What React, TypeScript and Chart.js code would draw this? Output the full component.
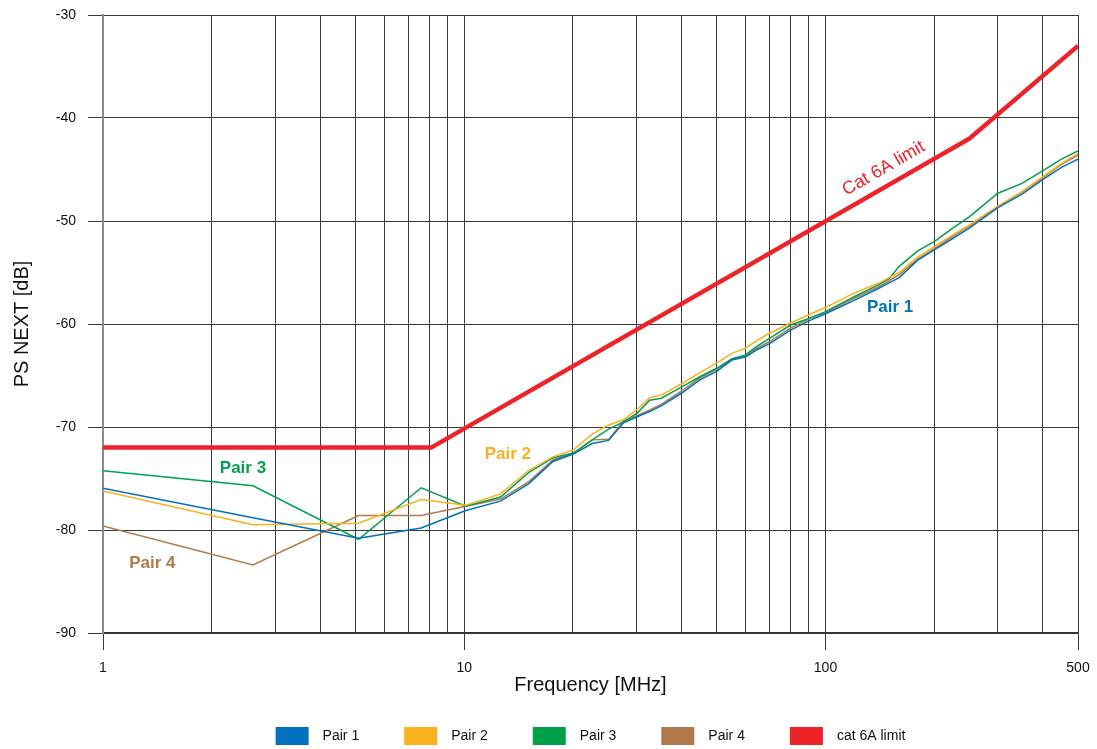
import React, { useEffect, useRef } from "react";
import { Chart, registerables } from "chart.js";

Chart.register(...registerables);

// Frequencies (MHz) of the measured sweep points
const freqs = [1, 2.6, 5.1, 7.6, 10.1, 12.6, 15.1, 17.6, 20.1, 22.6, 25.1, 27.6, 30.1, 32.6, 35.1, 40, 45, 50, 55, 60, 65, 70, 80, 90, 100, 120, 140, 150, 160, 180, 200, 225, 250, 300, 350, 400, 450, 500];

const pair1 = [-75.95, -78.8, -80.8, -79.8, -78.1, -77.2, -75.5, -73.35, -72.6, -71.6, -71.3, -69.6, -69.0, -68.5, -67.95, -66.7, -65.4, -64.6, -63.5, -63.2, -62.45, -61.9, -60.6, -59.7, -59.0, -57.7, -56.55, -56.0, -55.5, -53.8, -52.8, -51.7, -50.7, -48.7, -47.4, -45.95, -44.8, -44.0];
const pair2 = [-76.2, -79.5, -79.35, -77.05, -77.6, -76.5, -74.2, -72.9, -72.2, -70.7, -69.8, -69.3, -68.3, -67.15, -66.9, -65.8, -64.7, -63.8, -62.85, -62.35, -61.55, -60.9, -59.9, -59.1, -58.4, -57.0, -56.05, -55.5, -55.0, -53.5, -52.5, -51.35, -50.4, -48.55, -47.15, -45.7, -44.4, -43.45];
const pair3 = [-74.24, -75.7, -80.9, -75.9, -77.7, -76.8, -74.4, -73.0, -72.5, -71.25, -70.2, -69.5, -68.65, -67.4, -67.2, -66.1, -65.1, -64.3, -63.4, -63.0, -62.1, -61.4, -60.1, -59.45, -58.8, -57.35, -56.2, -55.6, -54.4, -52.9, -52.0, -50.7, -49.6, -47.3, -46.35, -45.1, -44.0, -43.2];
const pair4 = [-79.6, -83.4, -78.6, -78.6, -77.7, -77.0, -75.3, -73.2, -72.55, -71.25, -71.2, -69.4, -68.9, -68.35, -67.8, -66.5, -65.2, -64.4, -63.4, -63.1, -62.3, -61.7, -60.4, -59.5, -58.9, -57.5, -56.4, -55.8, -55.2, -53.7, -52.7, -51.5, -50.5, -48.6, -47.2, -45.8, -44.5, -43.6];

const limitFreqs = [1, 8.1, 250, 500];
const limitValues = [-72, -72, -42, -33];

const gridFreqs = [1, 2, 3, 4, 5, 6, 7, 8, 9, 10, 20, 30, 40, 50, 60, 70, 80, 90, 100, 200, 300, 400, 500];
const xTickLabels = [1, 10, 100, 500];
const yTicks = [-90, -80, -70, -60, -50, -40, -30];

const seriesNames = ["Pair 1", "Pair 2", "Pair 3", "Pair 4", "cat 6A limit"];
const seriesColors = ["#0071bc", "#fbb01e", "#00a14b", "#b07a4c", "#ee2229"];

// In-plot labels (data coordinates)
const labelTexts = ["Pair 1", "Pair 2", "Pair 3", "Pair 4"];
const labelFreqs = [151, 13.2, 2.44, 1.37];
const labelValues = [-58.35, -72.7, -73.98, -83.2];
const limitLabelText = "Cat 6A limit";
const limitLabelFreq = 145;
const limitLabelValue = -44.9;

const FONT = "'Liberation Sans', Arial, Helvetica, sans-serif";

const toPoints = (xs: number[], ys: number[]) => xs.map((x, i) => ({ x, y: ys[i] }));

export default function App() {
  const ref = useRef<HTMLCanvasElement | null>(null);

  useEffect(() => {
    if (!ref.current) return;
    const series = [pair1, pair2, pair3, pair4];

    const overlay = {
      id: "overlay",
      afterDatasetsDraw(chart: any) {
        const ctx = chart.ctx;
        const xs = chart.scales.x;
        const ys = chart.scales.y;
        const ca = chart.chartArea;
        ctx.save();
        // pair labels
        ctx.font = `bold 17px ${FONT}`;
        ctx.textAlign = "center";
        ctx.textBaseline = "middle";
        labelTexts.forEach((t, i) => {
          ctx.fillStyle = seriesColors[i];
          ctx.fillText(t, xs.getPixelForValue(labelFreqs[i]), ys.getPixelForValue(labelValues[i]));
        });
        // limit label, rotated along the line
        const x1 = xs.getPixelForValue(limitFreqs[1]);
        const y1 = ys.getPixelForValue(limitValues[1]);
        const x2 = xs.getPixelForValue(limitFreqs[2]);
        const y2 = ys.getPixelForValue(limitValues[2]);
        const ang = Math.atan2(y2 - y1, x2 - x1);
        ctx.translate(xs.getPixelForValue(limitLabelFreq), ys.getPixelForValue(limitLabelValue));
        ctx.rotate(ang);
        ctx.font = `18px ${FONT}`;
        ctx.fillStyle = seriesColors[4];
        ctx.fillText(limitLabelText, 0, 0);
        ctx.restore();

        // axis titles
        ctx.save();
        ctx.fillStyle = "#111";
        ctx.font = `20px ${FONT}`;
        ctx.textAlign = "center";
        ctx.textBaseline = "middle";
        ctx.fillText("Frequency [MHz]", (ca.left + ca.right) / 2, 685);
        ctx.translate(22, (ca.top + ca.bottom) / 2);
        ctx.rotate(-Math.PI / 2);
        ctx.fillText("PS NEXT [dB]", 0, 0);
        ctx.restore();

        // legend
        ctx.save();
        ctx.font = `14px ${FONT}`;
        const boxW = 33, boxH = 18, gapText = 14, gapItem = 45;
        const widths = seriesNames.map((n) => boxW + gapText + ctx.measureText(n).width);
        const total = widths.reduce((a, b) => a + b, 0) + gapItem * (widths.length - 1);
        let x = (ca.left + ca.right) / 2 - total / 2;
        const cy = 736;
        ctx.textBaseline = "middle";
        ctx.textAlign = "left";
        seriesNames.forEach((n, i) => {
          ctx.fillStyle = seriesColors[i];
          ctx.fillRect(x, cy - boxH / 2, boxW, boxH);
          ctx.fillStyle = "#111";
          ctx.fillText(n, x + boxW + gapText, cy);
          x += widths[i] + gapItem;
        });
        ctx.restore();
      },
    };

    const datasets: any[] = series.map((s, i) => ({
      label: seriesNames[i],
      data: toPoints(freqs, s),
      borderColor: seriesColors[i],
      backgroundColor: seriesColors[i],
      borderWidth: 1.5,
      pointRadius: 0,
      tension: 0,
    }));
    datasets.push({
      label: seriesNames[4],
      data: toPoints(limitFreqs, limitValues),
      borderColor: seriesColors[4],
      backgroundColor: seriesColors[4],
      borderWidth: 4.5,
      pointRadius: 0,
      tension: 0,
    });

    const chart = new Chart(ref.current, {
      type: "line",
      data: { datasets },
      plugins: [overlay],
      options: {
        animation: false,
        responsive: false,
        devicePixelRatio: 1,
        layout: { padding: { top: 15, right: 19, left: 0, bottom: 0 } },
        plugins: { legend: { display: false }, tooltip: { enabled: false } },
        scales: {
          x: {
            type: "logarithmic",
            min: 1,
            max: 500,
            afterBuildTicks: (scale: any) => {
              scale.ticks = gridFreqs.map((v) => ({ value: v }));
            },
            afterFit: (scale: any) => {
              scale.height = 116;
              scale.paddingLeft = 0;
              scale.paddingRight = 0;
            },
            ticks: {
              autoSkip: false,
              maxRotation: 0,
              padding: 10,
              color: "#111",
              font: { family: FONT, size: 14 },
              callback: (v: any) => (xTickLabels.includes(Number(v)) ? String(v) : ""),
            },
            grid: {
              color: "#3a3a3a",
              lineWidth: 1,
              tickLength: 17,
              tickColor: (c: any) => (c.tick && xTickLabels.includes(c.tick.value) ? "#3a3a3a" : "rgba(0,0,0,0)"),
            },
            border: { color: "#333", width: 1.5 },
          },
          y: {
            type: "linear",
            min: -90,
            max: -30,
            afterBuildTicks: (scale: any) => {
              scale.ticks = yTicks.map((v) => ({ value: v }));
            },
            afterFit: (scale: any) => {
              scale.width = 103;
              scale.paddingTop = 0;
              scale.paddingBottom = 0;
            },
            ticks: {
              padding: 12,
              color: "#111",
              font: { family: FONT, size: 14 },
            },
            grid: {
              color: "#3a3a3a",
              lineWidth: 1,
              tickLength: 15,
              tickColor: "#3a3a3a",
            },
            border: { color: "#8a8a8a", width: 2 },
          },
        },
      } as any,
    });
    return () => chart.destroy();
  }, []);

  return (
    <div style={{ position: "fixed", left: 0, top: 0, width: 1097, height: 749, background: "#fff" }}>
      <canvas ref={ref} width={1097} height={749} />
    </div>
  );
}
